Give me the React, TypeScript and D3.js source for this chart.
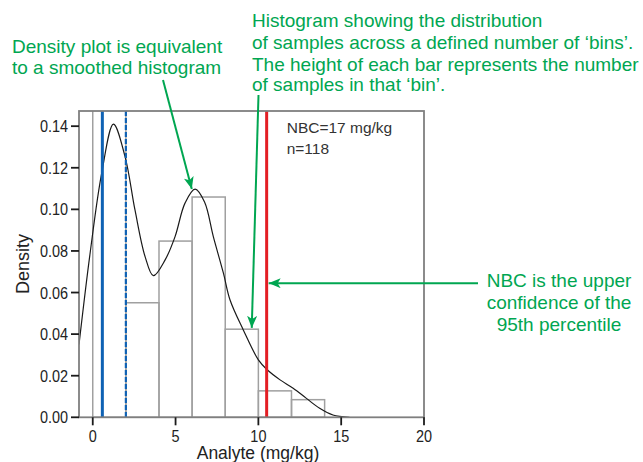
import React from "react";
import * as d3 from "d3";

// ---- data ----
const binStarts = [0, 2, 4, 6, 8, 10, 12];
const binCounts = [45, 13, 20, 25, 10, 3, 2];
const sampleSize = 118;
const binWidth = 2;

const densityX = [-0.83, -0.16, 0.54, 1.25, 1.95, 2.55, 3.16, 3.66, 4.37, 4.97, 5.57, 6.18, 6.75, 7.28, 7.89, 8.29, 9.09, 10.0, 10.5, 11.31, 12.1, 12.9, 13.7, 14.5, 15.5];
const densityY = [0.035, 0.0789, 0.1174, 0.141, 0.1254, 0.0997, 0.0773, 0.0681, 0.0757, 0.0869, 0.103, 0.1097, 0.1035, 0.0869, 0.0693, 0.0564, 0.042, 0.0276, 0.0231, 0.018, 0.014, 0.0091, 0.0043, 0.0011, 0.0];

const meanLine = 0.58;
const dashedLine = 2.0;
const nbcLine = 10.5;

const xTicks = [0, 5, 10, 15, 20];
const yTicks = [0, 0.02, 0.04, 0.06, 0.08, 0.1, 0.12, 0.14];

const GREEN = "#00a651";
const BLUE = "#0f62b4";
const RED = "#e31e24";
const FRAME = "#7f7f7f";
const SANS = "'Liberation Sans',Arial,Helvetica,sans-serif";

export default function App() {
  const W = 643, H = 462;
  const left = 79, right = 424, top = 111, bottom = 417.3;
  const x = d3.scaleLinear().domain([-0.83, 20]).range([left, right]);
  const y = d3.scaleLinear().domain([0, 0.1473]).range([bottom, top]);

  const pts: [number, number][] = densityX.map((v, i) => [v, densityY[i]]);
  const line = d3
    .line<[number, number]>()
    .x((d) => x(d[0]))
    .y((d) => y(d[1]))
    .curve(d3.curveCatmullRom.alpha(0.5));

  const arrows = [
    { x1: 163, y1: 80, x2: x(5.98), y2: y(0.1098) },
    { x1: 258.5, y1: 95, x2: x(9.6), y2: y(0.043) },
    { x1: 478, y1: y(0.0645), x2: x(nbcLine) + 2, y2: y(0.0645) },
  ];

  return (
    <svg
      width={W}
      height={H}
      style={{ position: "absolute", left: 0, top: 0, background: "#fff" }}
    >
      <defs>
        <clipPath id="plotClip">
          <rect x={left} y={top} width={right - left} height={bottom - top} />
        </clipPath>
        <marker
          id="arrowHead"
          viewBox="0 0 12 10"
          refX="12"
          refY="5"
          markerWidth="12"
          markerHeight="10"
          markerUnits="userSpaceOnUse"
          orient="auto"
        >
          <path d="M0,0 L12,5 L0,10 L3,5 Z" fill={GREEN} />
        </marker>
      </defs>

      <g clipPath="url(#plotClip)">
        {binStarts.map((b, i) => {
          const dens = binCounts[i] / (sampleSize * binWidth);
          return (
            <rect
              key={i}
              x={x(b)}
              y={y(dens)}
              width={x(b + binWidth) - x(b)}
              height={bottom - y(dens)}
              fill="none"
              stroke="#a0a0a0"
              strokeWidth={1.5}
            />
          );
        })}
        <path d={line(pts) || ""} fill="none" stroke="#1a1a1a" strokeWidth={1.2} />
        <line x1={x(meanLine)} x2={x(meanLine)} y1={top} y2={bottom} stroke={BLUE} strokeWidth={3} />
        <line
          x1={x(dashedLine)}
          x2={x(dashedLine)}
          y1={top}
          y2={bottom}
          stroke={BLUE}
          strokeWidth={2.2}
          strokeDasharray="5,2"
        />
        <line x1={x(nbcLine)} x2={x(nbcLine)} y1={top} y2={bottom} stroke={RED} strokeWidth={3} />
      </g>

      {/* frame */}
      <rect x={left} y={top} width={right - left} height={bottom - top} fill="none" stroke={FRAME} strokeWidth={1.8} />

      {/* y axis ticks */}
      {yTicks.map((t) => (
        <g key={"y" + t}>
          <line x1={left - 8} x2={left} y1={y(t)} y2={y(t)} stroke="#1a1a1a" strokeWidth={1.8} />
          <text
            transform={`translate(${left - 11},${y(t)}) scale(0.85,1)`}
            dy="0.36em"
            textAnchor="end"
            fontFamily={SANS}
            fontSize={17}
            fill="#222"
          >
            {d3.format(".2f")(t)}
          </text>
        </g>
      ))}
      {/* x axis ticks */}
      {xTicks.map((t) => (
        <g key={"x" + t}>
          <line x1={x(t)} x2={x(t)} y1={bottom} y2={bottom + 8} stroke="#1a1a1a" strokeWidth={1.8} />
          <text
            transform={`translate(${x(t)},441.5) scale(0.85,1)`}
            textAnchor="middle"
            fontFamily={SANS}
            fontSize={17}
            fill="#222"
          >
            {t}
          </text>
        </g>
      ))}

      <text x={258} y={459} textAnchor="middle" fontFamily={SANS} fontSize={17.5} fill="#222">
        Analyte (mg/kg)
      </text>
      <text
        transform={`translate(29,264) rotate(-90)`}
        textAnchor="middle"
        fontFamily={SANS}
        fontSize={18}
        fill="#222"
      >
        Density
      </text>

      <text x={286.7} y={133} fontFamily={SANS} fontSize={15.5} fill="#333">
        NBC=17 mg/kg
      </text>
      <text x={286.7} y={154} fontFamily={SANS} fontSize={15.5} fill="#333">
        n=118
      </text>

      {/* annotations */}
      {arrows.map((a, i) => (
        <line
          key={i}
          x1={a.x1}
          y1={a.y1}
          x2={a.x2}
          y2={a.y2}
          stroke={GREEN}
          strokeWidth={2}
          markerEnd="url(#arrowHead)"
        />
      ))}

      <g fontFamily={SANS} fontSize={19} fill={GREEN}>
        <text x={12} y={53}>Density plot is equivalent</text>
        <text x={12} y={74}>to a smoothed histogram</text>

        <text x={252} y={26.7}>Histogram showing the distribution</text>
        <text x={252} y={49}>of samples across a defined number of ‘bins’.</text>
        <text x={252} y={70.7}>The height of each bar represents the number</text>
        <text x={252} y={91}>of samples in that ‘bin’.</text>

        <text x={559} y={287} textAnchor="middle">NBC is the upper</text>
        <text x={559} y={309} textAnchor="middle">confidence of the</text>
        <text x={559} y={331} textAnchor="middle">95th percentile</text>
      </g>
    </svg>
  );
}
